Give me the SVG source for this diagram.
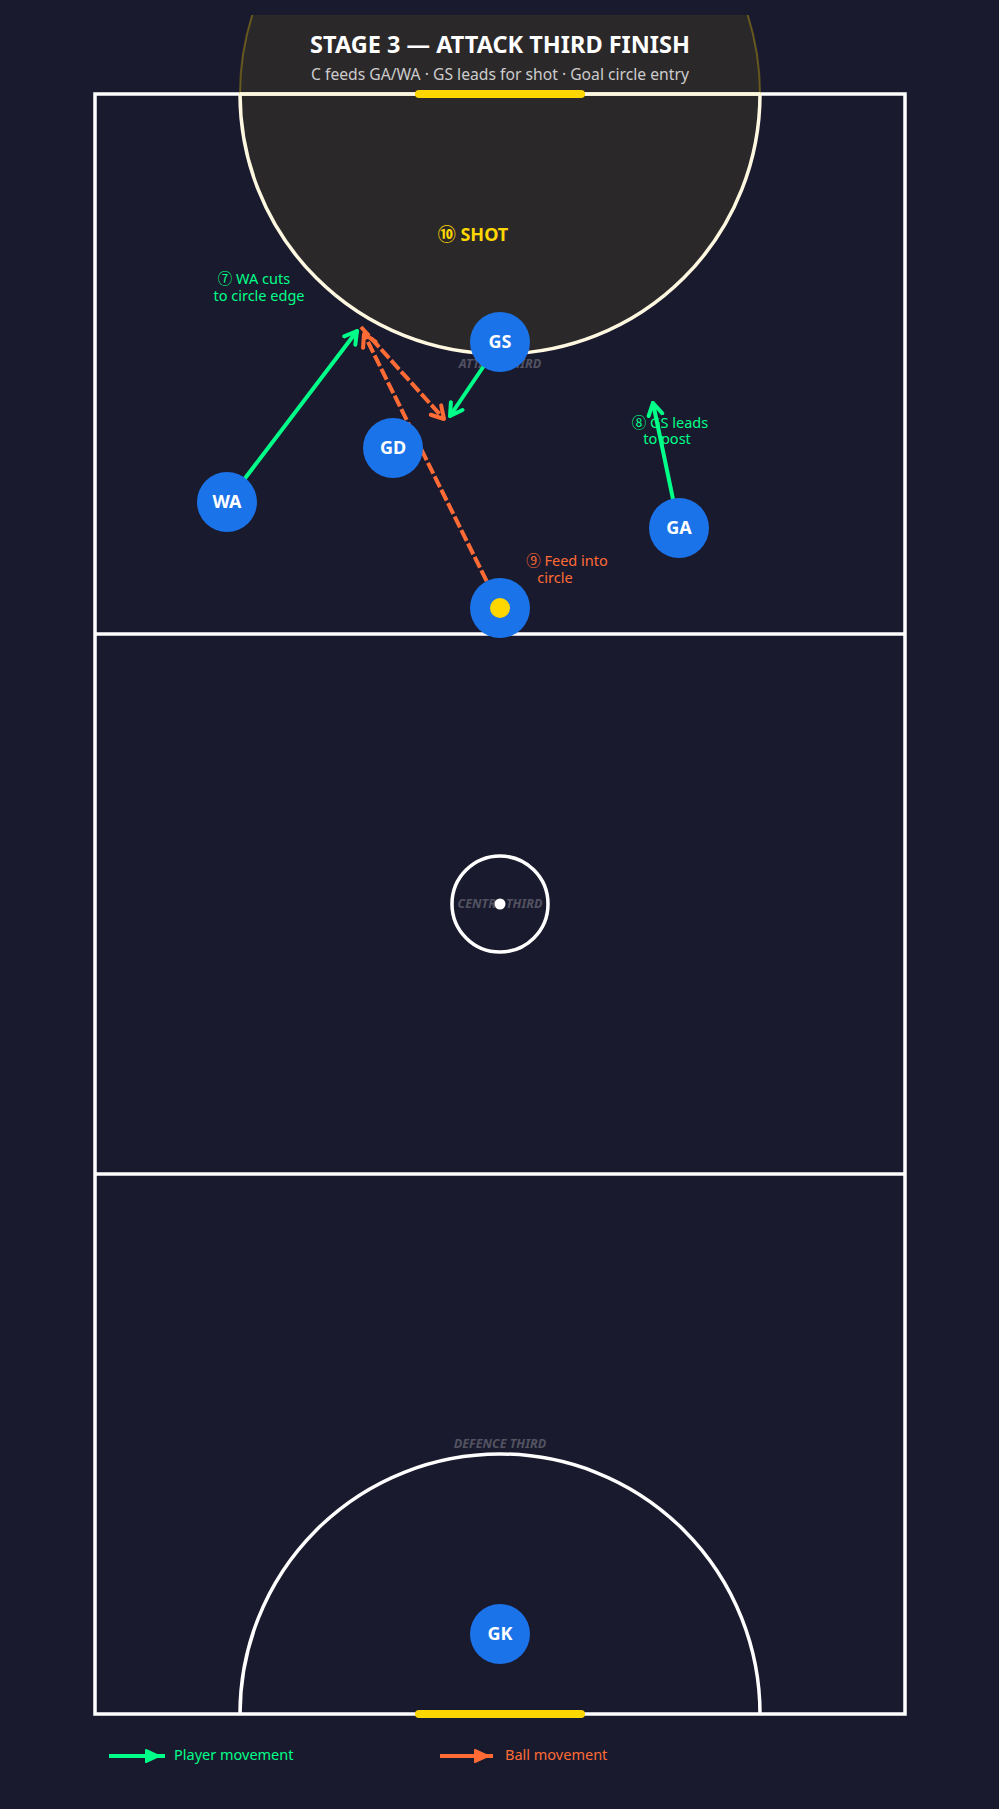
<svg xmlns="http://www.w3.org/2000/svg" width="999" height="1809" viewBox="0 0 999 1809">
<defs>
<style>
text{font-family:'Noto Sans','Noto Sans CJK SC','DejaVu Sans',sans-serif}
.court{fill:none;stroke:#ffffff;stroke-width:3.5}
.arc{fill:none;stroke:#fff8e1;stroke-width:3.5}
.post{stroke:#ffd700;stroke-width:8;stroke-linecap:round}
.third{font-size:12.5px;font-weight:700;font-style:italic;fill:#ffffff;fill-opacity:0.25;text-anchor:middle}
.node{fill:#1a73e8}
.nlabel{font-size:18px;font-weight:700;fill:#ffffff;text-anchor:middle}
.pmove{fill:none;stroke:#00ff88;stroke-width:4;stroke-linecap:round}
.bmove{fill:none;stroke:#ff6b35;stroke-width:4;stroke-dasharray:12 3}
.glab{font-size:14.5px;fill:#00ff88;text-anchor:middle}
.olab{font-size:14.5px;fill:#ff6b35;text-anchor:middle}
</style>
<clipPath id="topclip"><rect x="0" y="15" width="999" height="1794"/></clipPath>
<clipPath id="outclip"><rect x="0" y="15" width="999" height="79"/></clipPath>
<marker id="arrG" viewBox="-14 -10 18 20" markerWidth="18" markerHeight="20" refX="0" refY="0" orient="auto" markerUnits="userSpaceOnUse">
<path d="M-12,-7 L0,0 L-12,7" fill="none" stroke="#00ff88" stroke-width="4" stroke-linecap="round" stroke-linejoin="round"/>
</marker>
<marker id="arrO" viewBox="-14 -10 18 20" markerWidth="18" markerHeight="20" refX="0" refY="0" orient="auto" markerUnits="userSpaceOnUse">
<path d="M-12,-7 L0,0 L-12,7" fill="none" stroke="#ff6b35" stroke-width="4" stroke-linecap="round" stroke-linejoin="round"/>
</marker>
</defs>
<rect x="0" y="0" width="999" height="1809" fill="#1a1a2e"/>

<g id="court">
<rect class="court" x="95" y="94" width="810" height="1620"/>
<line class="court" x1="95" y1="634" x2="905" y2="634"/>
<line class="court" x1="95" y1="1174" x2="905" y2="1174"/>
<path class="court" d="M240,1714 A260,260 0 0 1 760,1714"/>
<circle class="court" cx="500" cy="904" r="48"/>
</g>

<g id="attack-circle-highlight">
<circle cx="500" cy="94" r="260" fill="#ffd700" fill-opacity="0.08" clip-path="url(#topclip)"/>
<circle cx="500" cy="94" r="260" fill="none" stroke="#ffd700" stroke-opacity="0.3" stroke-width="2" clip-path="url(#outclip)"/>
<line x1="240" y1="94" x2="760" y2="94" stroke="#fff8e1" stroke-width="3.5"/>
<path class="arc" d="M240,94 A260,260 0 0 0 760,94"/>
</g>

<g id="posts">
<line class="post" x1="419" y1="94" x2="581" y2="94"/>
<line class="post" x1="419" y1="1714" x2="581" y2="1714"/>
</g>

<g id="third-labels">
<text class="third" x="500" y="368">ATTACK THIRD</text>
<text class="third" x="500" y="908">CENTRE THIRD</text>
<text class="third" x="500" y="1448">DEFENCE THIRD</text>
</g>
<circle cx="500" cy="904" r="5.5" fill="#ffffff"/>

<g id="title">
<text x="500" y="53" font-size="23.5" font-weight="700" fill="#ffffff" text-anchor="middle">STAGE 3 — ATTACK THIRD FINISH</text>
<text x="500" y="80" font-size="15.7" fill="#cccccc" text-anchor="middle">C feeds GA/WA · GS leads for shot · Goal circle entry</text>
</g>

<g id="labels">
<text x="473" y="241" font-size="18" font-weight="700" fill="#ffd700" text-anchor="middle">⑩ SHOT</text>
<text class="glab" x="254" y="284">⑦ WA cuts</text>
<text class="glab" x="259" y="301">to circle edge</text>
<text class="glab" x="670" y="428">⑧ GS leads</text>
<text class="glab" x="667" y="444">to post</text>
<text class="olab" x="567" y="566">⑨ Feed into</text>
<text class="olab" x="555" y="583">circle</text>
</g>

<g id="connectors">
<line class="pmove" x1="227" y1="502" x2="357" y2="331" marker-end="url(#arrG)"/>
<line class="pmove" x1="500" y1="342" x2="450" y2="416" marker-end="url(#arrG)"/>
<line class="pmove" x1="679" y1="528" x2="653" y2="403" marker-end="url(#arrG)"/>
<line class="bmove" x1="500" y1="608" x2="364" y2="334" marker-end="url(#arrO)"/>
<line class="bmove" x1="361" y1="327" x2="444" y2="419" marker-end="url(#arrO)"/>
</g>

<g id="node-gs"><circle class="node" cx="500" cy="342" r="30"/><text class="nlabel" x="500" y="348">GS</text></g>
<g id="node-gd"><circle class="node" cx="393" cy="448" r="30"/><text class="nlabel" x="393" y="454">GD</text></g>
<g id="node-wa"><circle class="node" cx="227" cy="502" r="30"/><text class="nlabel" x="227" y="508">WA</text></g>
<g id="node-ga"><circle class="node" cx="679" cy="528" r="30"/><text class="nlabel" x="679" y="534">GA</text></g>
<g id="node-c"><circle class="node" cx="500" cy="608" r="30"/><circle cx="500" cy="608" r="10" fill="#ffd700"/></g>
<g id="node-gk"><circle class="node" cx="500" cy="1634" r="30"/><text class="nlabel" x="500" y="1640">GK</text></g>

<g id="legend">
<line x1="109" y1="1756" x2="165" y2="1756" stroke="#00ff88" stroke-width="4"/>
<polygon points="146,1750 159,1756 146,1762" fill="#00ff88" stroke="#00ff88" stroke-width="2" stroke-linejoin="round"/>
<text x="174" y="1760" font-size="14.5" fill="#00ff88">Player movement</text>
<line x1="440" y1="1756" x2="493" y2="1756" stroke="#ff6b35" stroke-width="4"/>
<polygon points="475,1750 488,1756 475,1762" fill="#ff6b35" stroke="#ff6b35" stroke-width="2" stroke-linejoin="round"/>
<text x="505" y="1760" font-size="14.5" fill="#ff6b35">Ball movement</text>
</g>
</svg>
